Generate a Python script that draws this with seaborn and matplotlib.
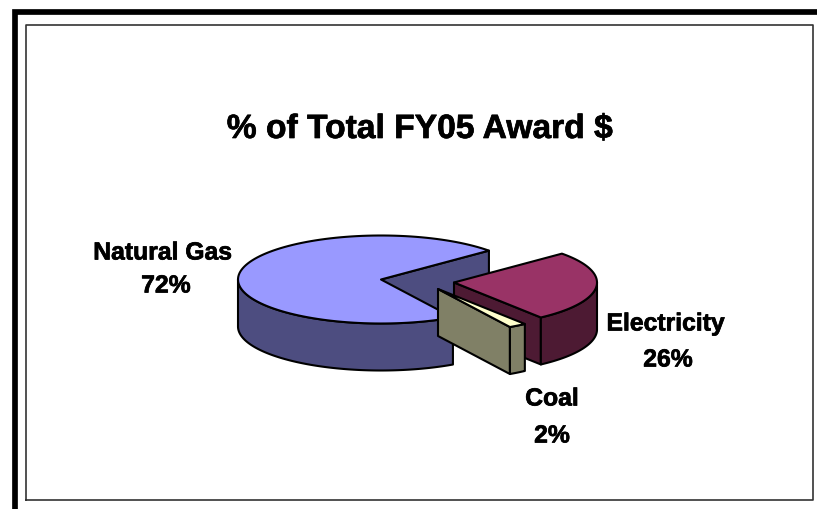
import numpy as np
import matplotlib.pyplot as plt
import matplotlib.patheffects as pe
import seaborn as sns

# Values
categories = ['Natural Gas', 'Electricity', 'Coal']
shares = [72, 26, 2]
title = '% of Total FY05 Award $'

top_colors = ['#9999FF', '#993366', '#FFFFCC']
side_colors = ['#4D4D80', '#4D1A33', '#808066']

# Pie geometry in pixels
centers = [(381, 280.5), (454, 283.5), (438, 290)]
name_pos = [(162.5, 251), (665.5, 322), (552, 397)]
share_pos = [(166, 284), (668, 358), (552, 434)]
rx, ry = 143, 44
depth = 47
start_angle = 41
edge = '#000000'


def arc(center, t0, t1, n=120):
    t = np.radians(np.linspace(t0, t1, n))
    return center[0] + rx * np.cos(t), center[1] - ry * np.sin(t)


def draw_wedge(ax, center, t0, t1, top, side):
    cx, cy = center
    # cut face at the start of the wedge, the one that looks toward the viewer
    x, y = arc(center, t0, t0, 1)
    ax.fill([cx, x[0], x[0], cx], [cy, y[0], y[0] + depth, cy + depth],
            facecolor=side, edgecolor=edge, lw=1.5, joinstyle='round')
    # outer rim, only the part on the front of the ellipse
    front0, front1 = max(t0, 180), min(t1, 360)
    if front1 > front0:
        x, y = arc(center, front0, front1)
        ax.fill(np.r_[x, x[::-1]], np.r_[y, y[::-1] + depth],
                facecolor=side, edgecolor=edge, lw=1.5, joinstyle='round')
    # top face
    x, y = arc(center, t0, t1)
    ax.fill(np.r_[cx, x], np.r_[cy, y], facecolor=top, edgecolor=edge, lw=1.5,
            joinstyle='round')


def main():
    sns.set_theme(style='white')
    plt.rcParams['font.family'] = ['Liberation Sans', 'DejaVu Sans']

    fig = plt.figure(figsize=(8.17, 5.10), dpi=100)
    ax = fig.add_axes([0, 0, 1, 1])
    ax.set_xlim(0, 817)
    ax.set_ylim(510, 0)
    ax.axis('off')

    # slide frame
    ax.plot([15.4, 15.4, 817], [510, 13.2, 13.2], color='black', lw=4.1, solid_joinstyle='miter')
    ax.plot([26.5, 26.5, 813, 813, 26.5], [501, 25.5, 25.5, 501, 501], color='#333333', lw=1.2)

    # the original lettering is a little heavier than plain bold
    heavy = [pe.withStroke(linewidth=0.5, foreground='black')]

    ax.text(420, 127, title, ha='center', va='center_baseline', fontsize=24.2, fontweight='bold',
            color='black', path_effects=heavy)

    # wedges run round from start_angle: gas first, then coal and electricity close the circle
    gas_t0 = start_angle
    gas_t1 = gas_t0 + shares[0] * 3.6
    coal_t0 = gas_t1
    coal_t1 = coal_t0 + shares[2] * 3.6
    el_t0 = coal_t1
    el_t1 = el_t0 + shares[1] * 3.6
    draw_wedge(ax, centers[0], gas_t0, gas_t1, top_colors[0], side_colors[0])
    draw_wedge(ax, centers[1], el_t0, el_t1, top_colors[1], side_colors[1])
    draw_wedge(ax, centers[2], coal_t0, coal_t1, top_colors[2], side_colors[2])

    for cat, share, (nx, ny), (sx, sy) in zip(categories, shares, name_pos, share_pos):
        ax.text(nx, ny, cat, ha='center', va='center_baseline', fontsize=17.8,
                fontweight='bold', color='black', path_effects=heavy)
        ax.text(sx, sy, f'{share}%', ha='center', va='center_baseline', fontsize=17.8,
                fontweight='bold', color='black', path_effects=heavy)

    fig.savefig('out.png', dpi=100)


if __name__ == "__main__":
    main()
